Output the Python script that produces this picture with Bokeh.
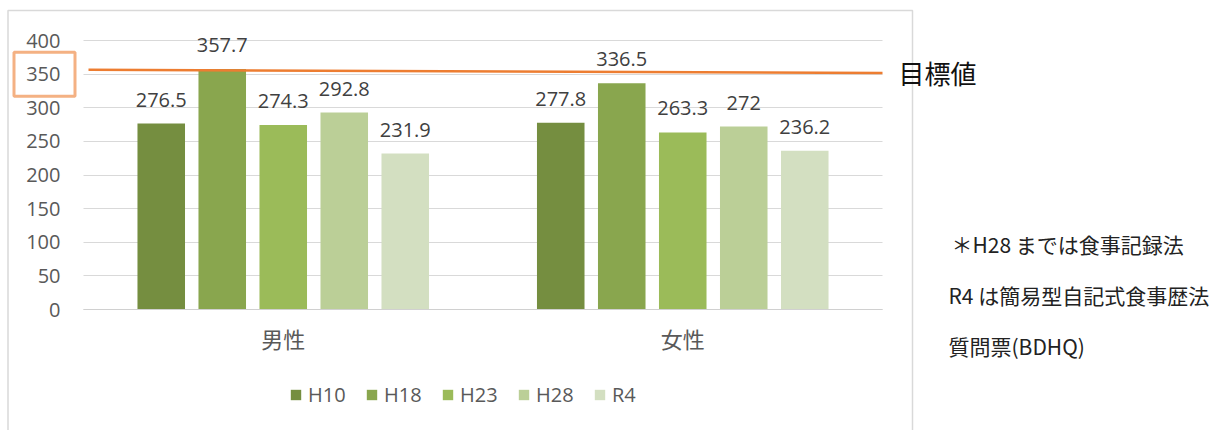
import numpy as np
from bokeh.plotting import figure
from bokeh.models import (ColumnDataSource, Range1d, FixedTicker, Legend, LegendItem,
                          BoxAnnotation, Label, Grid)
from bokeh.core.properties import value
from bokeh.embed import file_html
from bokeh.resources import INLINE

# ---- data ----
genders = ["男性", "女性"]
years = ["H10", "H18", "H23", "H28", "R4"]
values = {
    "H10": [276.5, 277.8],
    "H18": [357.7, 336.5],
    "H23": [274.3, 263.3],
    "H28": [292.8, 272],
    "R4": [231.9, 236.2],
}
colors = ["#758E40", "#89A64E", "#9BBB59", "#BBCF97", "#D3DFC1"]
y_ticks = [0, 50, 100, 150, 200, 250, 300, 350, 400]
target = 350
target_line_y = [356.5, 351.8]
target_label = "目標値"
notes = ["＊H28 までは食事記録法", "R4 は簡易型自記式食事歴法", "質問票(BDHQ)"]

CJK = "Noto Sans CJK JP"
NUM = "Open Sans"

W, H = 1218, 430
# layout of the plot area inside the canvas (pixels)
PA_L, PA_R, PA_T, PA_B = 83, 882, 40, 309
x_px = (PA_R - PA_L) / len(genders)
y_px = (PA_B - PA_T) / 400.0

n_cat = len(genders)
centers = np.arange(n_cat) + 0.5

p = figure(x_range=Range1d(-PA_L / x_px, n_cat + (W - PA_R) / x_px),
           y_range=Range1d(-(H - PA_B) / y_px, PA_B / y_px),
           width=W, height=H, output_backend="svg", toolbar_location=None,
           min_border=0)
p.outline_line_color = None
p.background_fill_color = "white"
p.border_fill_color = "white"

# chart area border
p.add_layout(BoxAnnotation(left=7.5, right=912, left_units="screen", right_units="screen",
                           top=(PA_B - 10) / y_px, bottom=-1000,
                           fill_alpha=0, line_color="#D9D9D9", line_alpha=1, line_width=1.5,
                           level="underlay"))

# grid lines limited to plot area
p.xgrid.grid_line_color = None
if "cross_bounds" in Grid.properties():
    p.ygrid.cross_bounds = (0, n_cat)
    p.ygrid.grid_line_color = "#D9D9D9"
    p.ygrid.grid_line_width = 1.2
else:
    p.ygrid.grid_line_color = None
    p.segment(x0=[0] * len(y_ticks), x1=[n_cat] * len(y_ticks), y0=y_ticks, y1=y_ticks,
              line_color="#D9D9D9", line_width=1.2, level="underlay")

pitch = 0.1527
bw = 0.119
items = []
for i, (yr, col) in enumerate(zip(years, colors)):
    off = (i - 2) * pitch
    src = ColumnDataSource(dict(x=centers + off, top=values[yr], lab=[str(v) for v in values[yr]]))
    r = p.vbar(x="x", top="top", width=bw, source=src, fill_color=col, line_color=None)
    p.text(x="x", y="top", text="lab", source=src,
           text_align="center", text_baseline="middle", y_offset=-24,
           text_font=value(NUM), text_font_size="20px", text_color="#404040")
    items.append(LegendItem(label=yr, renderers=[r]))

# target line
p.line(x=[0.0125, n_cat], y=target_line_y, line_color="#ED7D31", line_width=2.5)

# axes (drawn at fixed locations inside the canvas)
p.yaxis.ticker = FixedTicker(ticks=y_ticks)
p.yaxis.fixed_location = 0
p.yaxis.axis_line_color = None
p.yaxis.major_tick_line_color = None
p.yaxis.minor_tick_line_color = None
p.yaxis.major_tick_out = 0
p.yaxis.major_tick_in = 0
p.yaxis.major_label_standoff = 23
p.yaxis.major_label_text_font = NUM
p.yaxis.major_label_text_font_size = "20px"
p.yaxis.major_label_text_color = "#595959"

p.xaxis.ticker = FixedTicker(ticks=list(centers))
p.xaxis.major_label_overrides = {float(c): g for c, g in zip(centers, genders)}
p.xaxis.fixed_location = 0
p.xaxis.bounds = (0, n_cat)
p.xaxis.axis_line_color = "#D0D0D0"
p.xaxis.axis_line_width = 1.2
p.xaxis.major_tick_line_color = None
p.xaxis.minor_tick_line_color = None
p.xaxis.major_tick_out = 0
p.xaxis.major_tick_in = 0
p.xaxis.major_label_standoff = 12
p.xaxis.major_label_text_font = CJK
p.xaxis.major_label_text_font_size = "22px"
p.xaxis.major_label_text_color = "#595959"

# legend
legend = Legend(items=items, orientation="horizontal", location=(289, 22),
                glyph_width=13, glyph_height=13, label_standoff=6, label_width=38, spacing=19,
                padding=0, margin=0, border_line_color=None, background_fill_alpha=0,
                label_text_font=NUM, label_text_font_size="20px", label_text_color="#595959")
p.add_layout(legend, "center")

# highlight box around the 350 tick label
p.add_layout(BoxAnnotation(left=13.5, right=74.5, left_units="screen", right_units="screen",
                           top=target + 22 / y_px, bottom=target - 22 / y_px,
                           fill_alpha=0, line_color="#F4B183", line_alpha=1, line_width=3))

# target label
p.add_layout(Label(x=898, y=(PA_B - 72) / y_px, x_units="screen", y_units="data", text=target_label,
                   text_font=CJK, text_font_size="26px", text_color="#111111",
                   text_baseline="middle"))

# notes
note_x = [951, 948, 948]
note_py = [243, 294, 345]
for t, nx, py in zip(notes, note_x, note_py):
    p.add_layout(Label(x=nx, y=(PA_B - py) / y_px, x_units="screen", y_units="data", text=t,
                       text_font=CJK, text_font_size="21px", text_color="#222222",
                       text_baseline="middle"))

open("out.html", "w").write(file_html(p, INLINE))
